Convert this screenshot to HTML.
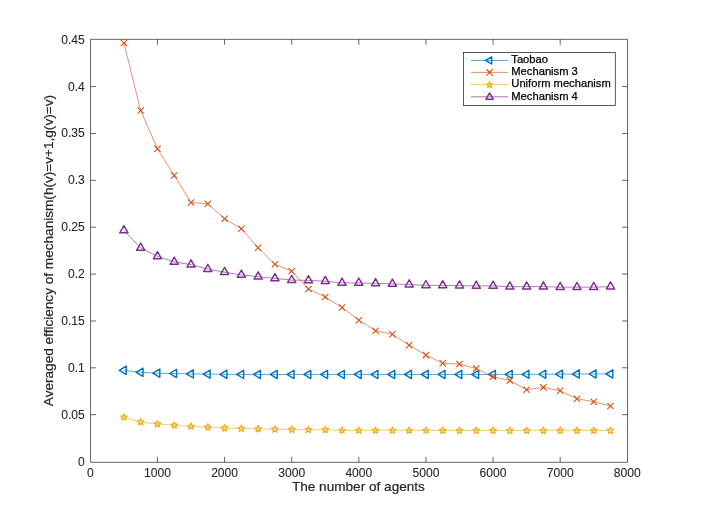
<!DOCTYPE html>
<html><head><meta charset="utf-8"><title>plot</title>
<style>
html,body{margin:0;padding:0;background:#fff;}
svg{display:block;}
text{font-family:"Liberation Sans",Arial,Helvetica,sans-serif;fill:#262626;}
.tk{font-size:12.1px;stroke:#262626;stroke-width:0.08px;}
.lb{font-size:13.6px;stroke:#262626;stroke-width:0.2px;}
.lg{font-size:11.2px;fill:#000;stroke:#000;stroke-width:0.25px;}
</style></head><body>
<svg width="720" height="520" viewBox="0 0 720 520">
<rect width="720" height="520" fill="#fff"/>
<defs><clipPath id="c"><rect x="90.55" y="39.35" width="537.0" height="422.95"/></clipPath></defs>
<g clip-path="url(#c)">
<polyline points="123.91,370.3 140.69,372.3 157.47,373.2 174.25,373.5 191.03,373.9 207.81,374.1 224.59,374.3 241.37,374.4 258.15,374.45 274.93,374.45 291.71,374.45 308.49,374.45 325.27,374.45 342.05,374.45 358.83,374.45 375.61,374.45 392.39,374.45 409.17,374.45 425.95,374.45 442.73,374.45 459.51,374.45 476.29,374.45 493.07,374.45 509.85,374.45 526.63,374.35 543.41,374.25 560.19,374.15 576.97,374.05 593.75,374 610.53,373.95" fill="none" stroke="#0072BD" stroke-width="0.85" stroke-opacity="0.75"/>
<polygon points="119.24,370.3 126.24,366.2 126.24,374.4" fill="none" stroke="#0072BD" stroke-width="1.4" stroke-linejoin="round"/>
<polygon points="136.02,372.3 143.02,368.2 143.02,376.4" fill="none" stroke="#0072BD" stroke-width="1.4" stroke-linejoin="round"/>
<polygon points="152.8,373.2 159.8,369.1 159.8,377.3" fill="none" stroke="#0072BD" stroke-width="1.4" stroke-linejoin="round"/>
<polygon points="169.58,373.5 176.58,369.4 176.58,377.6" fill="none" stroke="#0072BD" stroke-width="1.4" stroke-linejoin="round"/>
<polygon points="186.36,373.9 193.36,369.8 193.36,378" fill="none" stroke="#0072BD" stroke-width="1.4" stroke-linejoin="round"/>
<polygon points="203.14,374.1 210.14,370 210.14,378.2" fill="none" stroke="#0072BD" stroke-width="1.4" stroke-linejoin="round"/>
<polygon points="219.92,374.3 226.92,370.2 226.92,378.4" fill="none" stroke="#0072BD" stroke-width="1.4" stroke-linejoin="round"/>
<polygon points="236.7,374.4 243.7,370.3 243.7,378.5" fill="none" stroke="#0072BD" stroke-width="1.4" stroke-linejoin="round"/>
<polygon points="253.48,374.45 260.48,370.35 260.48,378.55" fill="none" stroke="#0072BD" stroke-width="1.4" stroke-linejoin="round"/>
<polygon points="270.26,374.45 277.26,370.35 277.26,378.55" fill="none" stroke="#0072BD" stroke-width="1.4" stroke-linejoin="round"/>
<polygon points="287.04,374.45 294.04,370.35 294.04,378.55" fill="none" stroke="#0072BD" stroke-width="1.4" stroke-linejoin="round"/>
<polygon points="303.82,374.45 310.82,370.35 310.82,378.55" fill="none" stroke="#0072BD" stroke-width="1.4" stroke-linejoin="round"/>
<polygon points="320.6,374.45 327.6,370.35 327.6,378.55" fill="none" stroke="#0072BD" stroke-width="1.4" stroke-linejoin="round"/>
<polygon points="337.38,374.45 344.38,370.35 344.38,378.55" fill="none" stroke="#0072BD" stroke-width="1.4" stroke-linejoin="round"/>
<polygon points="354.16,374.45 361.16,370.35 361.16,378.55" fill="none" stroke="#0072BD" stroke-width="1.4" stroke-linejoin="round"/>
<polygon points="370.94,374.45 377.94,370.35 377.94,378.55" fill="none" stroke="#0072BD" stroke-width="1.4" stroke-linejoin="round"/>
<polygon points="387.72,374.45 394.72,370.35 394.72,378.55" fill="none" stroke="#0072BD" stroke-width="1.4" stroke-linejoin="round"/>
<polygon points="404.5,374.45 411.5,370.35 411.5,378.55" fill="none" stroke="#0072BD" stroke-width="1.4" stroke-linejoin="round"/>
<polygon points="421.28,374.45 428.28,370.35 428.28,378.55" fill="none" stroke="#0072BD" stroke-width="1.4" stroke-linejoin="round"/>
<polygon points="438.06,374.45 445.06,370.35 445.06,378.55" fill="none" stroke="#0072BD" stroke-width="1.4" stroke-linejoin="round"/>
<polygon points="454.84,374.45 461.84,370.35 461.84,378.55" fill="none" stroke="#0072BD" stroke-width="1.4" stroke-linejoin="round"/>
<polygon points="471.62,374.45 478.62,370.35 478.62,378.55" fill="none" stroke="#0072BD" stroke-width="1.4" stroke-linejoin="round"/>
<polygon points="488.4,374.45 495.4,370.35 495.4,378.55" fill="none" stroke="#0072BD" stroke-width="1.4" stroke-linejoin="round"/>
<polygon points="505.18,374.45 512.18,370.35 512.18,378.55" fill="none" stroke="#0072BD" stroke-width="1.4" stroke-linejoin="round"/>
<polygon points="521.96,374.35 528.96,370.25 528.96,378.45" fill="none" stroke="#0072BD" stroke-width="1.4" stroke-linejoin="round"/>
<polygon points="538.74,374.25 545.74,370.15 545.74,378.35" fill="none" stroke="#0072BD" stroke-width="1.4" stroke-linejoin="round"/>
<polygon points="555.52,374.15 562.52,370.05 562.52,378.25" fill="none" stroke="#0072BD" stroke-width="1.4" stroke-linejoin="round"/>
<polygon points="572.3,374.05 579.3,369.95 579.3,378.15" fill="none" stroke="#0072BD" stroke-width="1.4" stroke-linejoin="round"/>
<polygon points="589.08,374 596.08,369.9 596.08,378.1" fill="none" stroke="#0072BD" stroke-width="1.4" stroke-linejoin="round"/>
<polygon points="605.86,373.95 612.86,369.85 612.86,378.05" fill="none" stroke="#0072BD" stroke-width="1.4" stroke-linejoin="round"/>
<polyline points="123.91,43 140.69,110.5 157.47,148.75 174.25,175.5 191.03,202.5 207.81,203.75 224.59,218.75 241.37,228.75 258.15,247.75 274.93,264.3 291.71,271.3 308.49,289 325.27,297 342.05,307.5 358.83,320.25 375.61,330.75 392.39,334.25 409.17,345.2 425.95,355.1 442.73,363.3 459.51,364 476.29,368.6 493.07,376.8 509.85,380.5 526.63,389.7 543.41,387.4 560.19,390.8 576.97,398.7 593.75,401.7 610.53,406" fill="none" stroke="#D95319" stroke-width="0.85" stroke-opacity="0.75"/>
<path d="M120.76 39.85L127.06 46.15M120.76 46.15L127.06 39.85" stroke="#D95319" stroke-width="1.15" fill="none"/>
<path d="M137.54 107.35L143.84 113.65M137.54 113.65L143.84 107.35" stroke="#D95319" stroke-width="1.15" fill="none"/>
<path d="M154.32 145.6L160.62 151.9M154.32 151.9L160.62 145.6" stroke="#D95319" stroke-width="1.15" fill="none"/>
<path d="M171.1 172.35L177.4 178.65M171.1 178.65L177.4 172.35" stroke="#D95319" stroke-width="1.15" fill="none"/>
<path d="M187.88 199.35L194.18 205.65M187.88 205.65L194.18 199.35" stroke="#D95319" stroke-width="1.15" fill="none"/>
<path d="M204.66 200.6L210.96 206.9M204.66 206.9L210.96 200.6" stroke="#D95319" stroke-width="1.15" fill="none"/>
<path d="M221.44 215.6L227.74 221.9M221.44 221.9L227.74 215.6" stroke="#D95319" stroke-width="1.15" fill="none"/>
<path d="M238.22 225.6L244.52 231.9M238.22 231.9L244.52 225.6" stroke="#D95319" stroke-width="1.15" fill="none"/>
<path d="M255 244.6L261.3 250.9M255 250.9L261.3 244.6" stroke="#D95319" stroke-width="1.15" fill="none"/>
<path d="M271.78 261.15L278.08 267.45M271.78 267.45L278.08 261.15" stroke="#D95319" stroke-width="1.15" fill="none"/>
<path d="M288.56 268.15L294.86 274.45M288.56 274.45L294.86 268.15" stroke="#D95319" stroke-width="1.15" fill="none"/>
<path d="M305.34 285.85L311.64 292.15M305.34 292.15L311.64 285.85" stroke="#D95319" stroke-width="1.15" fill="none"/>
<path d="M322.12 293.85L328.42 300.15M322.12 300.15L328.42 293.85" stroke="#D95319" stroke-width="1.15" fill="none"/>
<path d="M338.9 304.35L345.2 310.65M338.9 310.65L345.2 304.35" stroke="#D95319" stroke-width="1.15" fill="none"/>
<path d="M355.68 317.1L361.98 323.4M355.68 323.4L361.98 317.1" stroke="#D95319" stroke-width="1.15" fill="none"/>
<path d="M372.46 327.6L378.76 333.9M372.46 333.9L378.76 327.6" stroke="#D95319" stroke-width="1.15" fill="none"/>
<path d="M389.24 331.1L395.54 337.4M389.24 337.4L395.54 331.1" stroke="#D95319" stroke-width="1.15" fill="none"/>
<path d="M406.02 342.05L412.32 348.35M406.02 348.35L412.32 342.05" stroke="#D95319" stroke-width="1.15" fill="none"/>
<path d="M422.8 351.95L429.1 358.25M422.8 358.25L429.1 351.95" stroke="#D95319" stroke-width="1.15" fill="none"/>
<path d="M439.58 360.15L445.88 366.45M439.58 366.45L445.88 360.15" stroke="#D95319" stroke-width="1.15" fill="none"/>
<path d="M456.36 360.85L462.66 367.15M456.36 367.15L462.66 360.85" stroke="#D95319" stroke-width="1.15" fill="none"/>
<path d="M473.14 365.45L479.44 371.75M473.14 371.75L479.44 365.45" stroke="#D95319" stroke-width="1.15" fill="none"/>
<path d="M489.92 373.65L496.22 379.95M489.92 379.95L496.22 373.65" stroke="#D95319" stroke-width="1.15" fill="none"/>
<path d="M506.7 377.35L513 383.65M506.7 383.65L513 377.35" stroke="#D95319" stroke-width="1.15" fill="none"/>
<path d="M523.48 386.55L529.78 392.85M523.48 392.85L529.78 386.55" stroke="#D95319" stroke-width="1.15" fill="none"/>
<path d="M540.26 384.25L546.56 390.55M540.26 390.55L546.56 384.25" stroke="#D95319" stroke-width="1.15" fill="none"/>
<path d="M557.04 387.65L563.34 393.95M557.04 393.95L563.34 387.65" stroke="#D95319" stroke-width="1.15" fill="none"/>
<path d="M573.82 395.55L580.12 401.85M573.82 401.85L580.12 395.55" stroke="#D95319" stroke-width="1.15" fill="none"/>
<path d="M590.6 398.55L596.9 404.85M590.6 404.85L596.9 398.55" stroke="#D95319" stroke-width="1.15" fill="none"/>
<path d="M607.38 402.85L613.68 409.15M607.38 409.15L613.68 402.85" stroke="#D95319" stroke-width="1.15" fill="none"/>
<polyline points="123.91,417.2 140.69,422.1 157.47,424 174.25,425.3 191.03,426.4 207.81,427.3 224.59,428.1 241.37,428.5 258.15,429 274.93,429.3 291.71,429.6 308.49,429.7 325.27,429.8 342.05,430.4 358.83,430.4 375.61,430.4 392.39,430.4 409.17,430.4 425.95,430.4 442.73,430.6 459.51,430.6 476.29,430.6 493.07,430.6 509.85,430.6 526.63,430.6 543.41,430.6 560.19,430.6 576.97,430.6 593.75,430.6 610.53,430.6" fill="none" stroke="#EDB120" stroke-width="0.85" stroke-opacity="0.75"/>
<polygon points="123.91,413.7 124.79,415.99 127.24,416.12 125.34,417.66 125.97,420.03 123.91,418.7 121.85,420.03 122.48,417.66 120.58,416.12 123.03,415.99" fill="none" stroke="#EDB120" stroke-width="1.3" stroke-linejoin="round"/>
<polygon points="140.69,418.6 141.57,420.89 144.02,421.02 142.12,422.56 142.75,424.93 140.69,423.6 138.63,424.93 139.26,422.56 137.36,421.02 139.81,420.89" fill="none" stroke="#EDB120" stroke-width="1.3" stroke-linejoin="round"/>
<polygon points="157.47,420.5 158.35,422.79 160.8,422.92 158.9,424.46 159.53,426.83 157.47,425.5 155.41,426.83 156.04,424.46 154.14,422.92 156.59,422.79" fill="none" stroke="#EDB120" stroke-width="1.3" stroke-linejoin="round"/>
<polygon points="174.25,421.8 175.13,424.09 177.58,424.22 175.68,425.76 176.31,428.13 174.25,426.8 172.19,428.13 172.82,425.76 170.92,424.22 173.37,424.09" fill="none" stroke="#EDB120" stroke-width="1.3" stroke-linejoin="round"/>
<polygon points="191.03,422.9 191.91,425.19 194.36,425.32 192.46,426.86 193.09,429.23 191.03,427.9 188.97,429.23 189.6,426.86 187.7,425.32 190.15,425.19" fill="none" stroke="#EDB120" stroke-width="1.3" stroke-linejoin="round"/>
<polygon points="207.81,423.8 208.69,426.09 211.14,426.22 209.24,427.76 209.87,430.13 207.81,428.8 205.75,430.13 206.38,427.76 204.48,426.22 206.93,426.09" fill="none" stroke="#EDB120" stroke-width="1.3" stroke-linejoin="round"/>
<polygon points="224.59,424.6 225.47,426.89 227.92,427.02 226.02,428.56 226.65,430.93 224.59,429.6 222.53,430.93 223.16,428.56 221.26,427.02 223.71,426.89" fill="none" stroke="#EDB120" stroke-width="1.3" stroke-linejoin="round"/>
<polygon points="241.37,425 242.25,427.29 244.7,427.42 242.8,428.96 243.43,431.33 241.37,430 239.31,431.33 239.94,428.96 238.04,427.42 240.49,427.29" fill="none" stroke="#EDB120" stroke-width="1.3" stroke-linejoin="round"/>
<polygon points="258.15,425.5 259.03,427.79 261.48,427.92 259.58,429.46 260.21,431.83 258.15,430.5 256.09,431.83 256.72,429.46 254.82,427.92 257.27,427.79" fill="none" stroke="#EDB120" stroke-width="1.3" stroke-linejoin="round"/>
<polygon points="274.93,425.8 275.81,428.09 278.26,428.22 276.36,429.76 276.99,432.13 274.93,430.8 272.87,432.13 273.5,429.76 271.6,428.22 274.05,428.09" fill="none" stroke="#EDB120" stroke-width="1.3" stroke-linejoin="round"/>
<polygon points="291.71,426.1 292.59,428.39 295.04,428.52 293.14,430.06 293.77,432.43 291.71,431.1 289.65,432.43 290.28,430.06 288.38,428.52 290.83,428.39" fill="none" stroke="#EDB120" stroke-width="1.3" stroke-linejoin="round"/>
<polygon points="308.49,426.2 309.37,428.49 311.82,428.62 309.92,430.16 310.55,432.53 308.49,431.2 306.43,432.53 307.06,430.16 305.16,428.62 307.61,428.49" fill="none" stroke="#EDB120" stroke-width="1.3" stroke-linejoin="round"/>
<polygon points="325.27,426.3 326.15,428.59 328.6,428.72 326.7,430.26 327.33,432.63 325.27,431.3 323.21,432.63 323.84,430.26 321.94,428.72 324.39,428.59" fill="none" stroke="#EDB120" stroke-width="1.3" stroke-linejoin="round"/>
<polygon points="342.05,426.9 342.93,429.19 345.38,429.32 343.48,430.86 344.11,433.23 342.05,431.9 339.99,433.23 340.62,430.86 338.72,429.32 341.17,429.19" fill="none" stroke="#EDB120" stroke-width="1.3" stroke-linejoin="round"/>
<polygon points="358.83,426.9 359.71,429.19 362.16,429.32 360.26,430.86 360.89,433.23 358.83,431.9 356.77,433.23 357.4,430.86 355.5,429.32 357.95,429.19" fill="none" stroke="#EDB120" stroke-width="1.3" stroke-linejoin="round"/>
<polygon points="375.61,426.9 376.49,429.19 378.94,429.32 377.04,430.86 377.67,433.23 375.61,431.9 373.55,433.23 374.18,430.86 372.28,429.32 374.73,429.19" fill="none" stroke="#EDB120" stroke-width="1.3" stroke-linejoin="round"/>
<polygon points="392.39,426.9 393.27,429.19 395.72,429.32 393.82,430.86 394.45,433.23 392.39,431.9 390.33,433.23 390.96,430.86 389.06,429.32 391.51,429.19" fill="none" stroke="#EDB120" stroke-width="1.3" stroke-linejoin="round"/>
<polygon points="409.17,426.9 410.05,429.19 412.5,429.32 410.6,430.86 411.23,433.23 409.17,431.9 407.11,433.23 407.74,430.86 405.84,429.32 408.29,429.19" fill="none" stroke="#EDB120" stroke-width="1.3" stroke-linejoin="round"/>
<polygon points="425.95,426.9 426.83,429.19 429.28,429.32 427.38,430.86 428.01,433.23 425.95,431.9 423.89,433.23 424.52,430.86 422.62,429.32 425.07,429.19" fill="none" stroke="#EDB120" stroke-width="1.3" stroke-linejoin="round"/>
<polygon points="442.73,427.1 443.61,429.39 446.06,429.52 444.16,431.06 444.79,433.43 442.73,432.1 440.67,433.43 441.3,431.06 439.4,429.52 441.85,429.39" fill="none" stroke="#EDB120" stroke-width="1.3" stroke-linejoin="round"/>
<polygon points="459.51,427.1 460.39,429.39 462.84,429.52 460.94,431.06 461.57,433.43 459.51,432.1 457.45,433.43 458.08,431.06 456.18,429.52 458.63,429.39" fill="none" stroke="#EDB120" stroke-width="1.3" stroke-linejoin="round"/>
<polygon points="476.29,427.1 477.17,429.39 479.62,429.52 477.72,431.06 478.35,433.43 476.29,432.1 474.23,433.43 474.86,431.06 472.96,429.52 475.41,429.39" fill="none" stroke="#EDB120" stroke-width="1.3" stroke-linejoin="round"/>
<polygon points="493.07,427.1 493.95,429.39 496.4,429.52 494.5,431.06 495.13,433.43 493.07,432.1 491.01,433.43 491.64,431.06 489.74,429.52 492.19,429.39" fill="none" stroke="#EDB120" stroke-width="1.3" stroke-linejoin="round"/>
<polygon points="509.85,427.1 510.73,429.39 513.18,429.52 511.28,431.06 511.91,433.43 509.85,432.1 507.79,433.43 508.42,431.06 506.52,429.52 508.97,429.39" fill="none" stroke="#EDB120" stroke-width="1.3" stroke-linejoin="round"/>
<polygon points="526.63,427.1 527.51,429.39 529.96,429.52 528.06,431.06 528.69,433.43 526.63,432.1 524.57,433.43 525.2,431.06 523.3,429.52 525.75,429.39" fill="none" stroke="#EDB120" stroke-width="1.3" stroke-linejoin="round"/>
<polygon points="543.41,427.1 544.29,429.39 546.74,429.52 544.84,431.06 545.47,433.43 543.41,432.1 541.35,433.43 541.98,431.06 540.08,429.52 542.53,429.39" fill="none" stroke="#EDB120" stroke-width="1.3" stroke-linejoin="round"/>
<polygon points="560.19,427.1 561.07,429.39 563.52,429.52 561.62,431.06 562.25,433.43 560.19,432.1 558.13,433.43 558.76,431.06 556.86,429.52 559.31,429.39" fill="none" stroke="#EDB120" stroke-width="1.3" stroke-linejoin="round"/>
<polygon points="576.97,427.1 577.85,429.39 580.3,429.52 578.4,431.06 579.03,433.43 576.97,432.1 574.91,433.43 575.54,431.06 573.64,429.52 576.09,429.39" fill="none" stroke="#EDB120" stroke-width="1.3" stroke-linejoin="round"/>
<polygon points="593.75,427.1 594.63,429.39 597.08,429.52 595.18,431.06 595.81,433.43 593.75,432.1 591.69,433.43 592.32,431.06 590.42,429.52 592.87,429.39" fill="none" stroke="#EDB120" stroke-width="1.3" stroke-linejoin="round"/>
<polygon points="610.53,427.1 611.41,429.39 613.86,429.52 611.96,431.06 612.59,433.43 610.53,432.1 608.47,433.43 609.1,431.06 607.2,429.52 609.65,429.39" fill="none" stroke="#EDB120" stroke-width="1.3" stroke-linejoin="round"/>
<polyline points="123.91,230.4 140.69,247.9 157.47,256.4 174.25,261.9 191.03,264.65 207.81,269.15 224.59,272.15 241.37,274.9 258.15,276.65 274.93,278.4 291.71,280.1 308.49,280.4 325.27,281.15 342.05,282.9 358.83,282.9 375.61,283.4 392.39,283.9 409.17,284.6 425.95,285.3 442.73,285.4 459.51,285.6 476.29,285.9 493.07,285.9 509.85,286.65 526.63,286.65 543.41,286.65 560.19,287.15 576.97,287.15 593.75,287.15 610.53,286.65" fill="none" stroke="#7E2F8E" stroke-width="0.85" stroke-opacity="0.75"/>
<polygon points="123.91,225.6 119.76,232.8 128.06,232.8" fill="none" stroke="#7E2F8E" stroke-width="1.4" stroke-linejoin="round"/>
<polygon points="140.69,243.1 136.54,250.3 144.84,250.3" fill="none" stroke="#7E2F8E" stroke-width="1.4" stroke-linejoin="round"/>
<polygon points="157.47,251.6 153.32,258.8 161.62,258.8" fill="none" stroke="#7E2F8E" stroke-width="1.4" stroke-linejoin="round"/>
<polygon points="174.25,257.1 170.1,264.3 178.4,264.3" fill="none" stroke="#7E2F8E" stroke-width="1.4" stroke-linejoin="round"/>
<polygon points="191.03,259.85 186.88,267.05 195.18,267.05" fill="none" stroke="#7E2F8E" stroke-width="1.4" stroke-linejoin="round"/>
<polygon points="207.81,264.35 203.66,271.55 211.96,271.55" fill="none" stroke="#7E2F8E" stroke-width="1.4" stroke-linejoin="round"/>
<polygon points="224.59,267.35 220.44,274.55 228.74,274.55" fill="none" stroke="#7E2F8E" stroke-width="1.4" stroke-linejoin="round"/>
<polygon points="241.37,270.1 237.22,277.3 245.52,277.3" fill="none" stroke="#7E2F8E" stroke-width="1.4" stroke-linejoin="round"/>
<polygon points="258.15,271.85 254,279.05 262.3,279.05" fill="none" stroke="#7E2F8E" stroke-width="1.4" stroke-linejoin="round"/>
<polygon points="274.93,273.6 270.78,280.8 279.08,280.8" fill="none" stroke="#7E2F8E" stroke-width="1.4" stroke-linejoin="round"/>
<polygon points="291.71,275.3 287.56,282.5 295.86,282.5" fill="none" stroke="#7E2F8E" stroke-width="1.4" stroke-linejoin="round"/>
<polygon points="308.49,275.6 304.34,282.8 312.64,282.8" fill="none" stroke="#7E2F8E" stroke-width="1.4" stroke-linejoin="round"/>
<polygon points="325.27,276.35 321.12,283.55 329.42,283.55" fill="none" stroke="#7E2F8E" stroke-width="1.4" stroke-linejoin="round"/>
<polygon points="342.05,278.1 337.9,285.3 346.2,285.3" fill="none" stroke="#7E2F8E" stroke-width="1.4" stroke-linejoin="round"/>
<polygon points="358.83,278.1 354.68,285.3 362.98,285.3" fill="none" stroke="#7E2F8E" stroke-width="1.4" stroke-linejoin="round"/>
<polygon points="375.61,278.6 371.46,285.8 379.76,285.8" fill="none" stroke="#7E2F8E" stroke-width="1.4" stroke-linejoin="round"/>
<polygon points="392.39,279.1 388.24,286.3 396.54,286.3" fill="none" stroke="#7E2F8E" stroke-width="1.4" stroke-linejoin="round"/>
<polygon points="409.17,279.8 405.02,287 413.32,287" fill="none" stroke="#7E2F8E" stroke-width="1.4" stroke-linejoin="round"/>
<polygon points="425.95,280.5 421.8,287.7 430.1,287.7" fill="none" stroke="#7E2F8E" stroke-width="1.4" stroke-linejoin="round"/>
<polygon points="442.73,280.6 438.58,287.8 446.88,287.8" fill="none" stroke="#7E2F8E" stroke-width="1.4" stroke-linejoin="round"/>
<polygon points="459.51,280.8 455.36,288 463.66,288" fill="none" stroke="#7E2F8E" stroke-width="1.4" stroke-linejoin="round"/>
<polygon points="476.29,281.1 472.14,288.3 480.44,288.3" fill="none" stroke="#7E2F8E" stroke-width="1.4" stroke-linejoin="round"/>
<polygon points="493.07,281.1 488.92,288.3 497.22,288.3" fill="none" stroke="#7E2F8E" stroke-width="1.4" stroke-linejoin="round"/>
<polygon points="509.85,281.85 505.7,289.05 514,289.05" fill="none" stroke="#7E2F8E" stroke-width="1.4" stroke-linejoin="round"/>
<polygon points="526.63,281.85 522.48,289.05 530.78,289.05" fill="none" stroke="#7E2F8E" stroke-width="1.4" stroke-linejoin="round"/>
<polygon points="543.41,281.85 539.26,289.05 547.56,289.05" fill="none" stroke="#7E2F8E" stroke-width="1.4" stroke-linejoin="round"/>
<polygon points="560.19,282.35 556.04,289.55 564.34,289.55" fill="none" stroke="#7E2F8E" stroke-width="1.4" stroke-linejoin="round"/>
<polygon points="576.97,282.35 572.82,289.55 581.12,289.55" fill="none" stroke="#7E2F8E" stroke-width="1.4" stroke-linejoin="round"/>
<polygon points="593.75,282.35 589.6,289.55 597.9,289.55" fill="none" stroke="#7E2F8E" stroke-width="1.4" stroke-linejoin="round"/>
<polygon points="610.53,281.85 606.38,289.05 614.68,289.05" fill="none" stroke="#7E2F8E" stroke-width="1.4" stroke-linejoin="round"/>
</g>
<path d="M90.55 39.35H627.55V462.3H90.55ZM157.47 462.3v-5.4M157.47 39.35v5.4M224.59 462.3v-5.4M224.59 39.35v5.4M291.71 462.3v-5.4M291.71 39.35v5.4M358.83 462.3v-5.4M358.83 39.35v5.4M425.95 462.3v-5.4M425.95 39.35v5.4M493.07 462.3v-5.4M493.07 39.35v5.4M560.19 462.3v-5.4M560.19 39.35v5.4M90.55 414.68h5.4M627.55 414.68h-5.4M90.55 367.81h5.4M627.55 367.81h-5.4M90.55 320.94h5.4M627.55 320.94h-5.4M90.55 274.07h5.4M627.55 274.07h-5.4M90.55 227.2h5.4M627.55 227.2h-5.4M90.55 180.33h5.4M627.55 180.33h-5.4M90.55 133.46h5.4M627.55 133.46h-5.4M90.55 86.59h5.4M627.55 86.59h-5.4" fill="none" stroke="#333" stroke-width="0.75"/>
<text class="tk" x="90.35" y="477" text-anchor="middle">0</text>
<text class="tk" x="157.47" y="477" text-anchor="middle">1000</text>
<text class="tk" x="224.59" y="477" text-anchor="middle">2000</text>
<text class="tk" x="291.71" y="477" text-anchor="middle">3000</text>
<text class="tk" x="358.83" y="477" text-anchor="middle">4000</text>
<text class="tk" x="425.95" y="477" text-anchor="middle">5000</text>
<text class="tk" x="493.07" y="477" text-anchor="middle">6000</text>
<text class="tk" x="560.19" y="477" text-anchor="middle">7000</text>
<text class="tk" x="627.31" y="477" text-anchor="middle">8000</text>
<text class="tk" x="84.8" y="465.55" text-anchor="end">0</text>
<text class="tk" x="84.8" y="418.68" text-anchor="end">0.05</text>
<text class="tk" x="84.8" y="371.81" text-anchor="end">0.1</text>
<text class="tk" x="84.8" y="324.94" text-anchor="end">0.15</text>
<text class="tk" x="84.8" y="278.07" text-anchor="end">0.2</text>
<text class="tk" x="84.8" y="231.2" text-anchor="end">0.25</text>
<text class="tk" x="84.8" y="184.33" text-anchor="end">0.3</text>
<text class="tk" x="84.8" y="137.46" text-anchor="end">0.35</text>
<text class="tk" x="84.8" y="90.59" text-anchor="end">0.4</text>
<text class="tk" x="84.8" y="43.72" text-anchor="end">0.45</text>
<text class="lb" x="358.4" y="491.3" text-anchor="middle">The number of agents</text>
<text class="lb" transform="translate(53.3 250.6) rotate(-90)" text-anchor="middle">Averaged efficiency of mechanism(h(v)=v+1,g(v)=v)</text>
<rect x="463.5" y="52.4" width="151.8" height="53.1" fill="#fff" stroke="#333" stroke-width="0.8"/>
<path d="M471 60.4H508" stroke="#0072BD" stroke-width="0.85" stroke-opacity="0.8"/>
<polygon points="485.49,60.4 491.65,56.79 491.65,64.01" fill="none" stroke="#0072BD" stroke-width="1.4" stroke-linejoin="round"/>
<text class="lg" x="511.3" y="63">Taobao</text>
<path d="M471 72.4H508" stroke="#D95319" stroke-width="0.85" stroke-opacity="0.8"/>
<path d="M486.45 69.25L492.75 75.55M486.45 75.55L492.75 69.25" stroke="#D95319" stroke-width="1.15" fill="none"/>
<text class="lg" x="511.3" y="75.2">Mechanism 3</text>
<path d="M471 84.6H508" stroke="#EDB120" stroke-width="0.85" stroke-opacity="0.8"/>
<polygon points="489.6,81.59 490.42,83.72 492.7,83.84 490.93,85.28 491.51,87.48 489.6,86.24 487.69,87.48 488.27,85.28 486.5,83.84 488.78,83.72" fill="none" stroke="#EDB120" stroke-width="1.3" stroke-linejoin="round"/>
<text class="lg" x="511.3" y="87.3">Uniform mechanism</text>
<path d="M471 96.8H508" stroke="#7E2F8E" stroke-width="0.85" stroke-opacity="0.8"/>
<polygon points="489.6,92.88 485.95,99.21 493.25,99.21" fill="none" stroke="#7E2F8E" stroke-width="1.4" stroke-linejoin="round"/>
<text class="lg" x="511.3" y="99.8">Mechanism 4</text>
</svg></body></html>
